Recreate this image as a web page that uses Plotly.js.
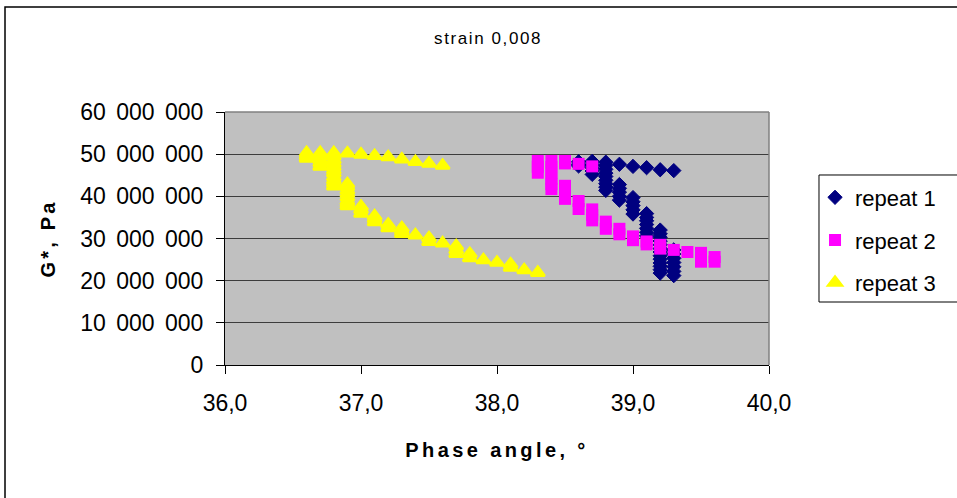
<!DOCTYPE html>
<html>
<head>
<meta charset="utf-8">
<script src="https://cdn.plot.ly/plotly-3.0.1.min.js"></script>
<style>
html,body{margin:0;padding:0;background:#fff;}
#chart{width:957px;height:498px;}
#chart .gtitle{letter-spacing:1.6px;}
#chart .xtitle{letter-spacing:3.4px;}
#chart .ytitle{letter-spacing:3.2px;}
#chart .ytick text{word-spacing:4px;}
</style>
</head>
<body>
<div id="chart"></div>
<script>
// ---- data (phase angle in degrees, G* in Pa) ----
const rep1X = [38.6, 38.6, 38.6,
  38.7, 38.7, 38.7, 38.7, 38.7,
  38.8, 38.8, 38.8, 38.8, 38.8, 38.8, 38.8, 38.8, 38.8,
  38.9, 38.9, 38.9, 38.9, 38.9, 38.9,
  39.0, 39.0, 39.0, 39.0, 39.0, 39.0,
  39.1, 39.1, 39.1, 39.1, 39.1, 39.1, 39.1, 39.1,
  39.2, 39.2, 39.2, 39.2, 39.2, 39.2, 39.2, 39.2, 39.2, 39.2, 39.2, 39.2, 39.2, 39.2,
  39.3, 39.3, 39.3, 39.3, 39.3, 39.3, 39.3, 39.3];
const rep1Y = [48.2e6, 47.6e6, 47.2e6,
  48.3e6, 47.5e6, 46.8e6, 46.0e6, 45.2e6,
  48.1e6, 47.3e6, 46.4e6, 45.5e6, 44.7e6, 43.8e6, 43.0e6, 42.2e6, 41.4e6,
  47.6e6, 42.8e6, 41.9e6, 41.0e6, 40.0e6, 39.1e6,
  47.1e6, 39.7e6, 38.7e6, 37.8e6, 36.8e6, 35.8e6,
  46.8e6, 35.9e6, 35.0e6, 34.2e6, 33.3e6, 32.4e6, 31.5e6, 30.6e6,
  46.3e6, 32.0e6, 31.1e6, 30.3e6, 29.4e6, 28.5e6, 27.6e6, 26.8e6, 25.9e6, 25.1e6, 24.2e6, 23.4e6, 22.6e6, 21.8e6,
  46.1e6, 27.3e6, 26.3e6, 25.3e6, 24.3e6, 23.3e6, 22.2e6, 21.2e6];

const rep2X = [38.3, 38.3, 38.3,
  38.4, 38.4, 38.4, 38.4, 38.4, 38.4,
  38.5, 38.5, 38.5, 38.5, 38.5,
  38.6, 38.6, 38.6,
  38.7, 38.7, 38.7, 38.7,
  38.8, 38.8, 38.9, 38.9, 39.0, 39.0, 39.1, 39.1, 39.2, 39.2,
  39.3, 39.4, 39.5, 39.5, 39.5, 39.6, 39.6];
const rep2Y = [48.4e6, 47.0e6, 45.6e6,
  48.4e6, 47.0e6, 45.6e6, 44.2e6, 42.9e6, 41.7e6,
  48.4e6, 47.8e6, 42.5e6, 41.0e6, 39.4e6,
  47.7e6, 38.9e6, 37.0e6,
  47.1e6, 36.9e6, 35.6e6, 34.3e6,
  34.0e6, 32.3e6, 32.3e6, 31.0e6, 30.5e6, 29.6e6, 29.3e6, 28.6e6, 28.5e6, 27.6e6,
  27.3e6, 26.8e6, 26.6e6, 25.5e6, 24.5e6, 25.6e6, 24.5e6];

const rep3X = [36.6, 36.6, 36.6,
  36.7, 36.7, 36.7, 36.7, 36.7,
  36.8, 36.8, 36.8, 36.8, 36.8, 36.8, 36.8, 36.8, 36.8, 36.8, 36.8,
  36.9, 36.9, 36.9, 36.9, 36.9, 36.9, 36.9, 36.9, 36.9,
  37.0, 37.0, 37.0, 37.0,
  37.1, 37.1, 37.1, 37.1,
  37.2, 37.2, 37.2,
  37.3, 37.3, 37.3, 37.3,
  37.4, 37.4,
  37.5, 37.5, 37.5,
  37.6, 37.6,
  37.7, 37.7, 37.7,
  37.8, 37.8, 37.9, 38.0, 38.1, 38.1, 38.2, 38.3];
const rep3Y = [50.3e6, 49.6e6, 49.0e6,
  50.3e6, 49.5e6, 48.6e6, 47.9e6, 47.1e6,
  50.3e6, 49.5e6, 48.6e6, 47.8e6, 47.0e6, 46.2e6, 45.5e6, 44.6e6, 43.8e6, 43.1e6, 42.4e6,
  50.2e6, 42.9e6, 42.2e6, 41.4e6, 40.6e6, 39.8e6, 38.9e6, 38.3e6, 37.7e6,
  49.95e6, 37.6e6, 36.8e6, 35.9e6,
  49.6e6, 35.3e6, 34.6e6, 33.9e6,
  49.3e6, 33.3e6, 32.5e6,
  48.8e6, 32.5e6, 31.8e6, 31.1e6,
  48.2e6, 30.8e6,
  47.8e6, 30.1e6, 29.2e6,
  47.3e6, 28.9e6,
  28.2e6, 27.3e6, 26.4e6,
  26.4e6, 25.4e6, 24.9e6, 24.3e6, 23.9e6, 23.1e6, 22.5e6, 21.9e6];

const seriesNames = ['repeat 1', 'repeat 2', 'repeat 3'];
const xTickVals = [36, 37, 38, 39, 40];
const xTickText = ['36,0', '37,0', '38,0', '39,0', '40,0'];
const yTickVals = [0, 10e6, 20e6, 30e6, 40e6, 50e6, 60e6];
const yTickText = ['0', '10 000 000', '20 000 000', '30 000 000', '40 000 000', '50 000 000', '60 000 000'];

const FONT = 'Arial, "Liberation Sans", sans-serif';

const traces = [
  {x: rep1X, y: rep1Y, name: seriesNames[0], legendgroup: 'g1', type: 'scatter', mode: 'markers',
   marker: {symbol: 'diamond', size: 11, color: '#000080', line: {color: '#000080', width: 1}}},
  {x: rep2X, y: rep2Y, name: seriesNames[1], legendgroup: 'g2', type: 'scatter', mode: 'markers',
   marker: {symbol: 'square', size: 12, color: '#FF00FF', line: {width: 0}}},
  {x: rep3X, y: rep3Y, name: seriesNames[2], legendgroup: 'g3', type: 'scatter', mode: 'markers',
   marker: {symbol: 'triangle-up', size: 12, color: '#FFFF00', line: {color: '#FFFF00', width: 2.5}}}
];

const layout = {
  width: 957, height: 498,
  margin: {l: 225, r: 188, t: 112, b: 133, pad: 0},
  paper_bgcolor: '#FFFFFF',
  plot_bgcolor: '#C0C0C0',
  font: {family: FONT, color: '#000'},
  showlegend: true,
  hovermode: false,
  title: {text: 'strain 0,008', font: {family: FONT, size: 17, color: '#000'},
          xref: 'container', yref: 'container', x: 0.51, xanchor: 'center', y: 0.924, yanchor: 'middle'},
  xaxis: {
    range: [36, 40], tickmode: 'array', tickvals: xTickVals, ticktext: xTickText,
    ticks: 'outside', ticklen: 8, tickwidth: 1, tickcolor: '#000',
    showline: true, linecolor: '#000', linewidth: 1, showgrid: false, zeroline: false,
    tickfont: {family: FONT, size: 23, color: '#000'}, ticklabelstandoff: 9,
    title: {text: '<b>Phase angle, °</b>', font: {family: FONT, size: 20, color: '#000'}, standoff: 28},
    fixedrange: true
  },
  yaxis: {
    range: [0, 60e6], tickmode: 'array', tickvals: yTickVals, ticktext: yTickText,
    ticks: 'outside', ticklen: 8, tickwidth: 1, tickcolor: '#000',
    showline: true, linecolor: '#000', linewidth: 1,
    showgrid: true, gridcolor: '#3c3c3c', gridwidth: 1.3, zeroline: false,
    tickfont: {family: FONT, size: 23, color: '#000'}, ticklabelstandoff: 8,
    title: {text: '<b>G*, Pa</b>', font: {family: FONT, size: 20, color: '#000'}, standoff: 27},
    fixedrange: true
  },
  legend: {
    x: 1.0846, xanchor: 'left', y: 0.494, yanchor: 'middle',
    bgcolor: 'rgba(0,0,0,0)', borderwidth: 0,
    font: {family: FONT, size: 22, color: '#000'},
    traceorder: 'grouped', tracegroupgap: 11
  },
  shapes: [
    // plot area border (top, right)
    {type: 'line', xref: 'paper', yref: 'paper', x0: 0, x1: 1, y0: 1, y1: 1, line: {color: '#808080', width: 1.5}},
    {type: 'line', xref: 'paper', yref: 'paper', x0: 1, x1: 1, y0: 0, y1: 1, line: {color: '#808080', width: 1.5}},
    // legend frame
    {type: 'rect', xref: 'paper', yref: 'paper', x0: 1.0919, x1: 1.37, y0: 0.249, y1: 0.751, line: {color: '#000', width: 1}},
    // chart outer frame
    {type: 'rect', xref: 'paper', yref: 'paper', x0: -0.4044, x1: 1.37, y0: -0.56, y1: 1.415, line: {color: '#000', width: 1.5}}
  ]
};

Plotly.newPlot('chart', traces, layout, {displayModeBar: false, staticPlot: true});
</script>
</body>
</html>
